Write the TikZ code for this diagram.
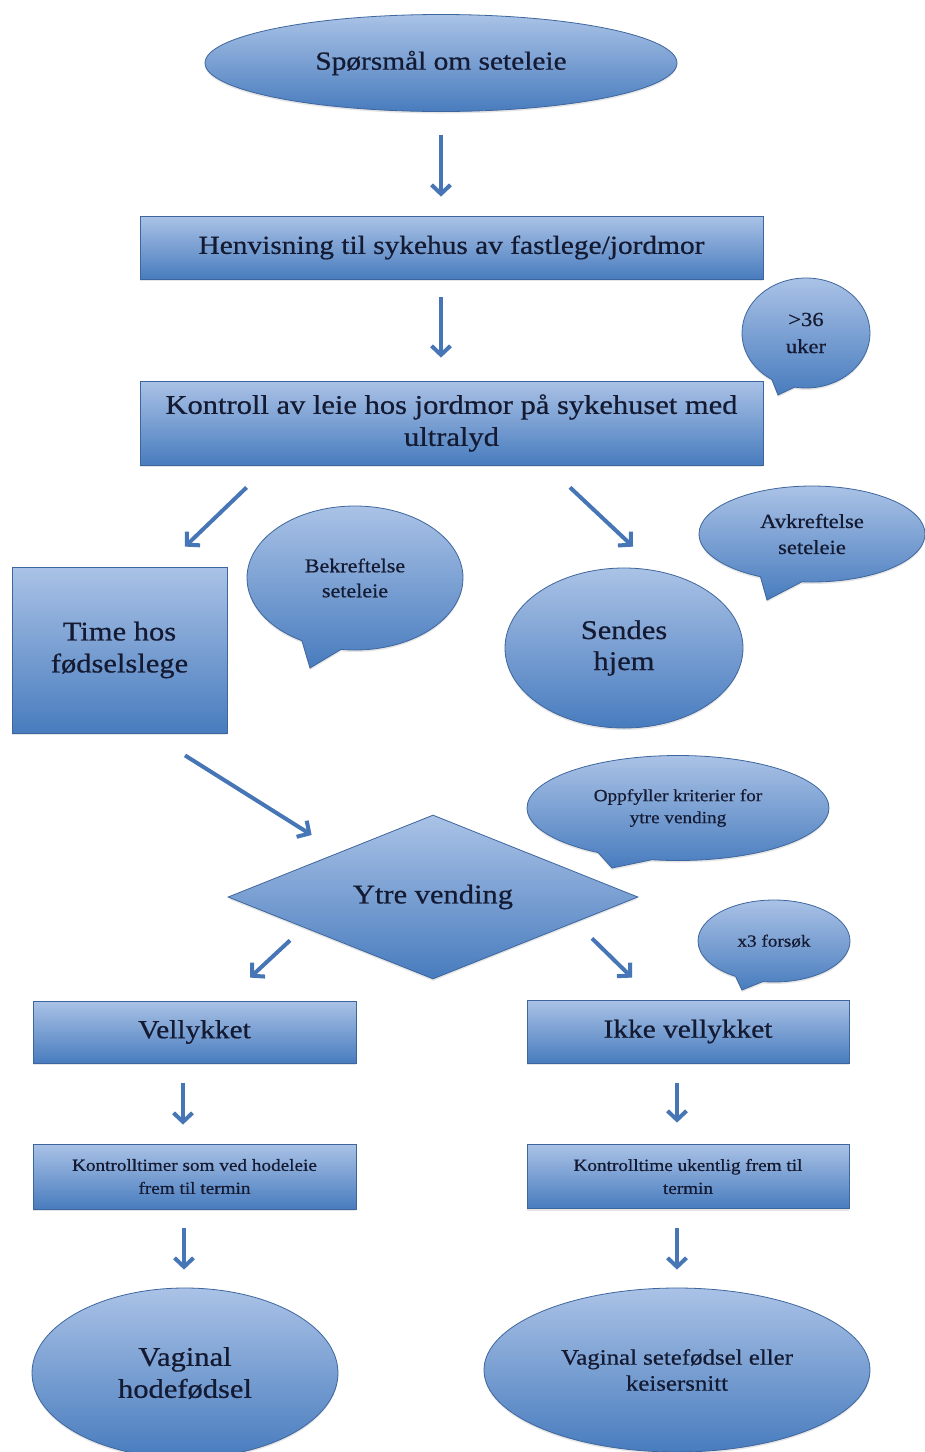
\documentclass[tikz,border=0pt]{standalone}
\usepackage{fontspec}
\setmainfont[FakeStretch=1.13,FakeBold=0.6]{Liberation Serif}
\usetikzlibrary{shapes.geometric,shapes.callouts,arrows.meta,calc,shadows}
\definecolor{ctop}{RGB}{170,194,230}
\definecolor{cbot}{RGB}{72,124,190}
\definecolor{cline}{RGB}{62,102,158}
\definecolor{ctext}{RGB}{20,26,50}
\definecolor{carrow}{RGB}{70,118,182}
\begin{document}
\begin{tikzpicture}[x=1pt,y=-1pt,
  base/.style={draw=cline, line width=0.8pt, top color=ctop, bottom color=cbot, text=ctext, align=center, inner sep=0pt,
    drop shadow={opacity=0.2,shadow xshift=0pt,shadow yshift=-2pt}},
  boxnode/.style={base, rectangle},
  ell/.style={base, ellipse},
  bub/.style={base, ellipse callout, callout pointer arc=22},
  arr/.style={draw=carrow, line width=4pt, -{Straight Barb[length=9pt,width=19pt]}},
  fs/.style 2 args={font=\fontsize{#1}{#2}\selectfont}
]
\fill[white] (0,0) rectangle (925,1452);
\useasboundingbox (0,0) rectangle (925,1452);

\node[ell, minimum width=472pt, minimum height=97pt, fs={26}{31}] (q) at (441,63) {Spørsmål om seteleie};
\node[boxnode, minimum width=623pt, minimum height=63pt, fs={26}{31}] (henv) at (451.5,247.5) {Henvisning til sykehus av fastlege/jordmor};
\node[boxnode, minimum width=623pt, minimum height=84pt, fs={27}{32}] (kontroll) at (451.5,423) {Kontroll av leie hos jordmor på sykehuset med\\ultralyd};
\node[bub, minimum width=128pt, minimum height=110pt, fs={20}{27}, callout absolute pointer={(778,395)}] (uker) at (806,333) {>36\\uker};
\node[boxnode, minimum width=215pt, minimum height=166pt, fs={27}{32}] (time) at (119.5,650) {Time hos\\fødselslege};
\node[bub, minimum width=216pt, minimum height=144pt, fs={19.5}{25}, callout absolute pointer={(310,668)}] (bek) at (355,578) {Bekreftelse\\seteleie};
\node[bub, minimum width=226pt, minimum height=96pt, fs={20}{26}, callout absolute pointer={(767,600)}] (avk) at (812,534) {Avkreftelse\\seteleie};
\node[ell, minimum width=238pt, minimum height=160pt, fs={27}{31}] (sendes) at (624,648) {Sendes\\hjem};
\node[base, diamond, aspect=2.5, minimum width=410pt, minimum height=164pt, fs={27}{32}] (ytre) at (433,897) {Ytre vending};
\node[bub, minimum width=302pt, minimum height=105pt, fs={17}{22}, callout absolute pointer={(612,868)}] (opp) at (678,808) {Oppfyller kriterier for\\ytre vending};
\node[bub, minimum width=152pt, minimum height=82pt, fs={17}{20}, callout absolute pointer={(742,990)}] (x3) at (774,941) {x3 forsøk};
\node[boxnode, minimum width=323pt, minimum height=62pt, fs={26}{31}] (vel) at (194.5,1032) {Vellykket};
\node[boxnode, minimum width=322pt, minimum height=63pt, fs={26}{31}] (ikke) at (688,1031.5) {Ikke vellykket};
\node[boxnode, minimum width=323pt, minimum height=65pt, fs={17}{23}] (k1) at (194.5,1176.5) {Kontrolltimer som ved hodeleie\\frem til termin};
\node[boxnode, minimum width=322pt, minimum height=64pt, fs={17}{23}] (k2) at (688,1176.5) {Kontrolltime ukentlig frem til\\termin};
\node[ell, minimum width=306pt, minimum height=170pt, fs={27}{32}] (vh) at (185,1373) {Vaginal\\hodefødsel};
\node[ell, minimum width=386pt, minimum height=164pt, fs={22}{26}] (vs) at (677,1370) {Vaginal setefødsel eller\\keisersnitt};

\draw[arr] ($(q.south)+(0,23.5)$) -- ($(henv.north)+(-10.5,-19)$);
\draw[arr] ($(henv.south)+(-10.5,18)$) -- ($(kontroll.north)+(-10.5,-23)$);
\draw[arr] ($(kontroll.south west)+(107,22)$) -- ($(time.north)+(65.5,-20)$);
\draw[arr] ($(kontroll.south)+(118.5,22)$) -- ($(sendes.north)+(9,-21)$);
\draw[arr] ($(time.south)+(65.5,22)$) -- ($(ytre.west)+(84,-62)$);
\draw[arr] ($(ytre.south)+(-143,-39)$) -- ($(vel.north)+(55.5,-23)$);
\draw[arr] ($(ytre.south)+(159,-41)$) -- ($(ikke.north)+(-56,-22)$);
\draw[arr] ($(vel.south)+(-11.5,20)$) -- ($(k1.north)+(-11.5,-19)$);
\draw[arr] ($(ikke.south)+(-11,20)$) -- ($(k2.north)+(-11,-21.5)$);
\draw[arr] ($(k1.south)+(-10.5,19)$) -- ($(vh.north)+(-1,-18)$);
\draw[arr] ($(k2.south)+(-11,19.5)$) -- ($(vs.north)+(0,-18)$);
\end{tikzpicture}
\end{document}
